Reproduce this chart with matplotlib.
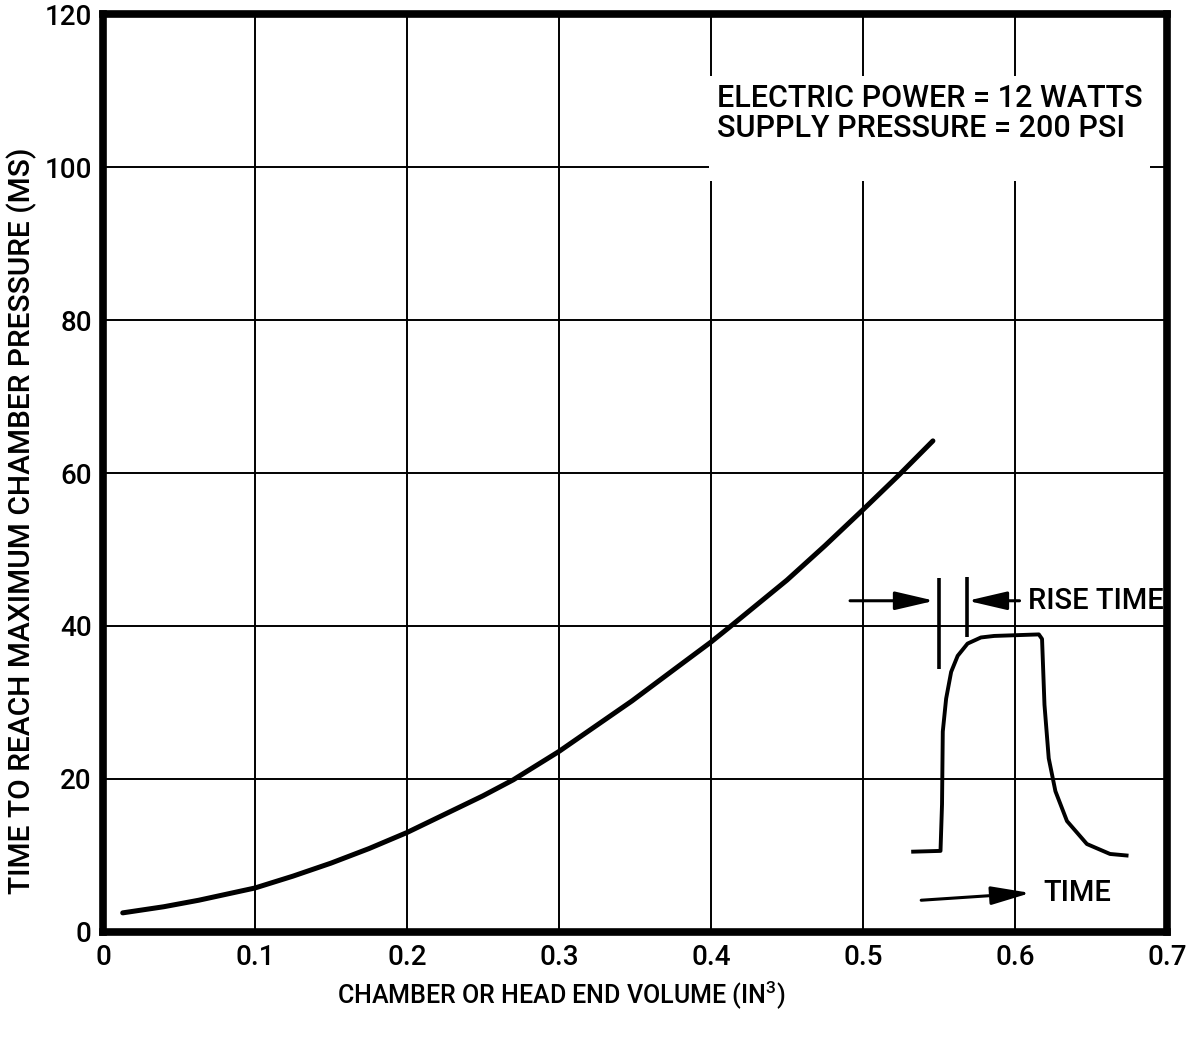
import matplotlib
matplotlib.use("Agg")
import matplotlib.pyplot as plt

plt.rcParams['font.family'] = ['Roboto', 'DejaVu Sans']
plt.rcParams['font.weight'] = 'medium'
plt.rcParams['mathtext.fontset'] = 'custom'
plt.rcParams['mathtext.rm'] = 'Roboto:medium'
plt.rcParams['mathtext.default'] = 'regular'

# ---- main curve ----
volume = [0.013, 0.040, 0.063, 0.100, 0.125, 0.150, 0.175, 0.200, 0.250, 0.270,
          0.300, 0.348, 0.377, 0.400, 0.4125, 0.450, 0.475, 0.500, 0.524, 0.546]
rise_ms = [2.5, 3.3, 4.15, 5.75, 7.3, 9.0, 10.9, 13.0, 17.8, 19.9,
           23.6, 30.2, 34.5, 37.9, 39.9, 46.0, 50.5, 55.2, 59.8, 64.2]

# ---- inset pulse sketch ----
pulse_x = [0.533, 0.551, 0.552, 0.5525, 0.5547, 0.558, 0.5623, 0.5688, 0.5776,
           0.5863, 0.6157, 0.6178, 0.6194, 0.6222, 0.6266, 0.6342, 0.6473,
           0.6625, 0.6734]
pulse_y = [10.5, 10.6, 16.7, 26.2, 30.5, 34.0, 36.1, 37.7, 38.5,
           38.7, 38.9, 38.3, 29.7, 22.7, 18.4, 14.5, 11.5,
           10.2, 10.0]
rise_mark_x = [0.5503, 0.5682]
rise_mark_lo = [34.4, 38.5]
rise_mark_hi = [46.3, 46.4]

x_ticks = [0, 0.1, 0.2, 0.3, 0.4, 0.5, 0.6, 0.7]
x_tick_labels = ['0', '0.1', '0.2', '0.3', '0.4', '0.5', '0.6', '0.7']
y_ticks = [0, 20, 40, 60, 80, 100, 120]
y_tick_labels = ['0', '20', '40', '60', '80', '100', '120']

fig = plt.figure(figsize=(11.93, 10.39), dpi=100)
ax = fig.add_axes([0.0863, 0.1030, 0.8919, 0.8835])

ax.set_xlim(0, 0.7)
ax.set_ylim(0, 120)
ax.set_xticks(x_ticks)
ax.set_xticklabels(x_tick_labels)
ax.set_yticks(y_ticks)
ax.set_yticklabels(y_tick_labels)
ax.tick_params(axis='both', length=0, labelsize=20)
ax.tick_params(axis='x', pad=9)
ax.tick_params(axis='y', pad=8)
ax.grid(True, color='black', linewidth=1.4, zorder=1)
ax.set_axisbelow(True)
for s in ax.spines.values():
    s.set_linewidth(5.5)
    s.set_color('black')
    s.set_zorder(5)

# main curve
ax.plot(volume, rise_ms, color='black', lw=3.6, solid_capstyle='round',
        solid_joinstyle='round', zorder=4)

# inset pulse
ax.plot(pulse_x, pulse_y, color='black', lw=2.8, solid_joinstyle='round', zorder=4)
ax.vlines(rise_mark_x, rise_mark_lo, rise_mark_hi, color='black', lw=2.6, zorder=4)

arrow_kw = dict(arrowstyle='-|>,head_length=1.2,head_width=0.28', color='black',
                lw=2.2, shrinkA=0, shrinkB=0, mutation_scale=20)
ax.annotate('', xy=(0.547, 43.3), xytext=(0.4915, 43.3), arrowprops=arrow_kw, zorder=4)
ax.annotate('', xy=(0.5688, 43.3), xytext=(0.6030, 43.3), arrowprops=arrow_kw, zorder=4)
ax.annotate('', xy=(0.6102, 5.1), xytext=(0.5383, 4.15), arrowprops=arrow_kw, zorder=4)
ax.text(0.6086, 43.3, 'RISE TIME', fontsize=21, ha='left', va='center', zorder=6)
ax.text(0.6184, 5.1, 'TIME', fontsize=21, ha='left', va='center', zorder=6)

# condition annotation
ax.text(0.404, 110.9, 'ELECTRIC POWER = 12 WATTS\nSUPPLY PRESSURE = 200 PSI\n ',
        fontsize=22, ha='left', va='top', linespacing=1.05, zorder=6,
        bbox=dict(facecolor='white', edgecolor='none', boxstyle='square,pad=0.25'))

fig.text(0.470, 0.043, 'CHAMBER OR HEAD END VOLUME (IN$^{3}$)', fontsize=18,
         ha='center', va='center')
fig.text(0.0184, 0.4986, 'TIME TO REACH MAXIMUM CHAMBER PRESSURE (MS)', fontsize=21.5,
         ha='center', va='center', rotation=90)

fig.savefig('out.png', dpi=100, facecolor='white')
